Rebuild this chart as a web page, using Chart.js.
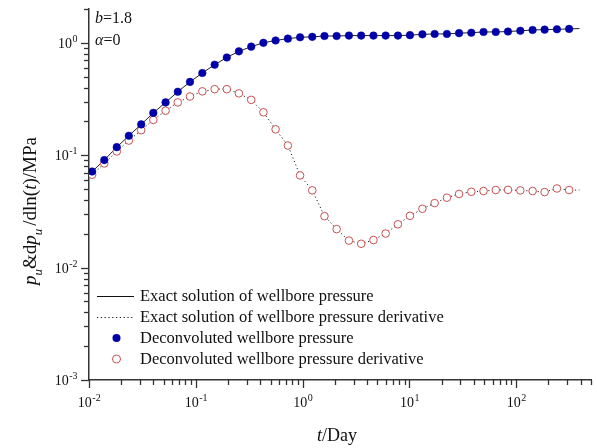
<!DOCTYPE html>
<html>
<head>
<meta charset="utf-8">
<script src="https://cdn.jsdelivr.net/npm/chart.js@4"></script>
<style>
html, body { margin: 0; padding: 0; background: #fff; }
canvas { display: block; }
</style>
</head>
<body>
<canvas id="chart" width="597" height="448"></canvas>
<script>
// time (days)
const times = [0.0107, 0.0139, 0.0182, 0.0236, 0.0308, 0.0400, 0.0521, 0.0678, 0.0882, 0.115,
  0.150, 0.195, 0.253, 0.330, 0.429, 0.558, 0.727, 0.946, 1.23, 1.60,
  2.08, 2.71, 3.53, 4.60, 5.98, 7.79, 10.1, 13.2, 17.2, 22.4,
  29.1, 37.9, 49.3, 64.2, 83.5, 109, 142, 184, 240, 312];
// deconvoluted wellbore pressure (MPa)
const pressure = [0.0716, 0.0905, 0.118, 0.149, 0.188, 0.238, 0.295, 0.367, 0.449, 0.539,
  0.639, 0.741, 0.840, 0.925, 1.00, 1.05, 1.09, 1.12, 1.13, 1.15,
  1.15, 1.16, 1.16, 1.16, 1.16, 1.16, 1.17, 1.19, 1.20, 1.20,
  1.22, 1.23, 1.25, 1.25, 1.26, 1.28, 1.30, 1.31, 1.32, 1.33];
// deconvoluted pressure derivative (MPa)
const derivative = [0.0670, 0.0845, 0.108, 0.135, 0.167, 0.206, 0.249, 0.295, 0.333, 0.370,
  0.387, 0.387, 0.355, 0.311, 0.241, 0.170, 0.122, 0.0661, 0.0487, 0.0287,
  0.0220, 0.0174, 0.0163, 0.0176, 0.0201, 0.0243, 0.0289, 0.0334, 0.0375, 0.0419,
  0.0452, 0.0473, 0.0480, 0.0490, 0.0492, 0.0486, 0.0480, 0.0470, 0.0506, 0.0490];
// exact solution end points (lines run a bit past the markers)
const edgeTimes = [0.01, 390];
const edgePressure = [0.069, 1.34];
const edgeDerivative = [0.064, 0.049];

const xDecades = [0.01, 0.1, 1, 10, 100];
const xExponents = ['-2', '-1', '0', '1', '2'];
const yDecades = [0.001, 0.01, 0.1, 1];
const yExponents = ['-3', '-2', '-1', '0'];
const legendLabels = [
  'Exact solution of wellbore pressure',
  'Exact solution of wellbore pressure derivative',
  'Deconvoluted wellbore pressure',
  'Deconvoluted wellbore pressure derivative'
];

const SERIF = '"Liberation Serif", "Times New Roman", serif';
const BLUE = '#0000a8';
const RED = '#c85050';
const AXIS = '#333';

function withEdges(vals, edges) {
  const pts = times.map((t, i) => ({x: t, y: vals[i]}));
  pts.unshift({x: edgeTimes[0], y: edges[0]});
  pts.push({x: edgeTimes[1], y: edges[1]});
  return pts;
}

function drawPower(ctx, x, y, exp, align) {
  ctx.font = '14px ' + SERIF;
  const wBase = ctx.measureText('10').width;
  ctx.font = '10px ' + SERIF;
  const wExp = ctx.measureText(exp).width;
  let x0 = align === 'right' ? x - wBase - wExp : x - (wBase + wExp) / 2;
  ctx.textBaseline = 'alphabetic';
  ctx.textAlign = 'left';
  ctx.font = '14px ' + SERIF;
  ctx.fillText('10', x0, y);
  ctx.font = '10px ' + SERIF;
  ctx.fillText(exp, x0 + wBase + 0.5, y - 6);
}

function drawRuns(ctx, runs, x, y, size) {
  let cx = x;
  runs.forEach(r => {
    const s = r.sub ? size * 0.68 : size;
    ctx.font = (r.italic ? 'italic ' : '') + s + 'px ' + SERIF;
    ctx.fillText(r.t, cx, y + (r.sub ? size * 0.3 : 0));
    cx += ctx.measureText(r.t).width + (r.gap || 0);
  });
  return cx - x;
}

function runsWidth(ctx, runs, size) {
  let w = 0;
  runs.forEach(r => {
    const s = r.sub ? size * 0.68 : size;
    ctx.font = (r.italic ? 'italic ' : '') + s + 'px ' + SERIF;
    w += ctx.measureText(r.t).width + (r.gap || 0);
  });
  return w;
}

const decorPlugin = {
  id: 'decor',
  afterDraw(chart) {
    const ctx = chart.ctx;
    const xs = chart.scales.x, ys = chart.scales.y;
    const a = chart.chartArea;
    ctx.save();
    ctx.strokeStyle = AXIS;
    ctx.fillStyle = '#111';
    ctx.lineWidth = 1.3;

    // y ticks
    for (let n = -3; n <= 0; n++) {
      for (let k = 1; k <= 9; k++) {
        const v = k * Math.pow(10, n);
        if (v < ys.min * 0.999 || v > ys.max * 1.001) continue;
        const py = Math.round(ys.getPixelForValue(v)) + 0.5;
        const len = k === 1 ? 8 : 5;
        ctx.beginPath();
        ctx.moveTo(a.left, py);
        ctx.lineTo(a.left - len, py);
        ctx.stroke();
      }
    }
    // x ticks
    for (let n = -2; n <= 2; n++) {
      for (let k = 1; k <= 9; k++) {
        const v = k * Math.pow(10, n);
        if (v < xs.min * 0.999 || v > xs.max * 1.001) continue;
        const px = Math.round(xs.getPixelForValue(v)) + 0.5;
        const len = k === 1 ? 8 : 5;
        ctx.beginPath();
        ctx.moveTo(px, a.bottom);
        ctx.lineTo(px, a.bottom + len);
        ctx.stroke();
      }
    }

    // tick labels
    yDecades.forEach((v, i) => {
      drawPower(ctx, a.left - 12, ys.getPixelForValue(v) + 5, yExponents[i], 'right');
    });
    xDecades.forEach((v, i) => {
      drawPower(ctx, xs.getPixelForValue(v), a.bottom + 27, xExponents[i], 'center');
    });

    // x title
    ctx.textAlign = 'left';
    ctx.textBaseline = 'alphabetic';
    drawRuns(ctx, [{t: 't', italic: true}, {t: '/Day'}], 317, 441, 18);

    // y title (rotated)
    const yRuns = [
      {t: 'p', italic: true}, {t: 'u', italic: true, sub: true},
      {t: '&d'}, {t: 'p', italic: true}, {t: 'u', italic: true, sub: true, gap: 3},
      {t: '/dln('}, {t: 't', italic: true}, {t: ')/MPa'}
    ];
    const yw = runsWidth(ctx, yRuns, 19);
    ctx.save();
    ctx.translate(36, 211);
    ctx.rotate(-Math.PI / 2);
    drawRuns(ctx, yRuns, -yw / 2, 0, 19);
    ctx.restore();

    // parameter notes
    drawRuns(ctx, [{t: 'b', italic: true}, {t: '=1.8'}], 95, 23, 16);
    drawRuns(ctx, [{t: 'α', italic: true}, {t: '=0'}], 95, 45, 16);

    // legend
    const rows = [296, 317, 338, 359];
    ctx.font = '16.5px ' + SERIF;
    ctx.textBaseline = 'middle';
    legendLabels.forEach((label, i) => {
      const y = rows[i];
      if (i === 0 || i === 1) {
        ctx.save();
        ctx.strokeStyle = '#111';
        ctx.lineWidth = 1;
        if (i === 1) ctx.setLineDash([1.2, 2.6]);
        ctx.beginPath();
        ctx.moveTo(97, y + 0.5);
        ctx.lineTo(134, y + 0.5);
        ctx.stroke();
        ctx.restore();
      } else {
        ctx.beginPath();
        ctx.arc(116.5, y, 4, 0, Math.PI * 2);
        if (i === 2) {
          ctx.fillStyle = BLUE;
          ctx.fill();
        } else {
          ctx.strokeStyle = RED;
          ctx.lineWidth = 1;
          ctx.stroke();
        }
      }
      ctx.fillStyle = '#111';
      ctx.fillText(label, 140, y + 1);
    });
    ctx.restore();
  }
};

new Chart(document.getElementById('chart'), {
  type: 'scatter',
  data: {
    datasets: [
      {
        label: legendLabels[2],
        data: times.map((t, i) => ({x: t, y: pressure[i]})),
        pointRadius: 3.8,
        pointBackgroundColor: BLUE,
        pointBorderColor: BLUE,
        pointBorderWidth: 0.5,
        order: 0
      },
      {
        label: legendLabels[3],
        data: times.map((t, i) => ({x: t, y: derivative[i]})),
        pointRadius: 3.8,
        pointBackgroundColor: '#fff',
        pointBorderColor: RED,
        pointBorderWidth: 1,
        order: 0
      },
      {
        label: legendLabels[0],
        data: withEdges(pressure, edgePressure),
        showLine: true,
        pointRadius: 0,
        borderColor: '#222',
        borderWidth: 1,
        order: 1
      },
      {
        label: legendLabels[1],
        data: withEdges(derivative, edgeDerivative),
        showLine: true,
        pointRadius: 0,
        borderColor: '#222',
        borderWidth: 1,
        borderDash: [1.2, 2.6],
        order: 1
      }
    ]
  },
  options: {
    responsive: false,
    animation: false,
    devicePixelRatio: 1,
    layout: {padding: {left: 81, right: 6, top: 9, bottom: 60}},
    plugins: {legend: {display: false}, tooltip: {enabled: false}},
    scales: {
      x: {
        type: 'logarithmic',
        min: 0.01,
        max: 500,
        ticks: {display: false},
        grid: {display: false},
        border: {display: true, color: AXIS, width: 1.5}
      },
      y: {
        type: 'logarithmic',
        min: 0.001,
        max: 2,
        ticks: {display: false},
        grid: {display: false},
        border: {display: true, color: AXIS, width: 1.5}
      }
    }
  },
  plugins: [decorPlugin]
});
</script>
</body>
</html>
